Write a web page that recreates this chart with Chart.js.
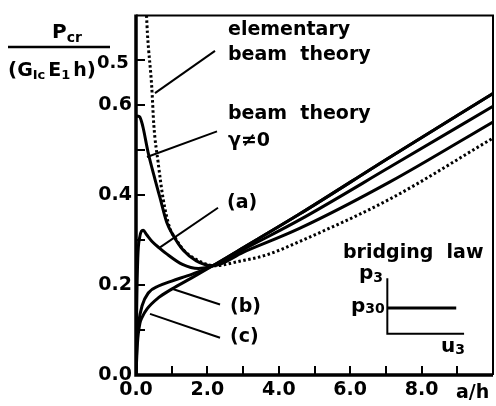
<!DOCTYPE html>
<html><head><meta charset="utf-8">
<script src="https://cdn.jsdelivr.net/npm/chart.js@4"></script>
<style>html,body{margin:0;padding:0;background:#fff}#wrap{width:496px;height:406px;position:relative}</style>
</head><body><div id="wrap"><canvas id="c" width="496" height="406"></canvas></div>
<script>
// ---- data (a/h, normalised critical load) ----
const elemX = [0.295, 0.32, 0.44, 0.5, 0.62, 0.76, 0.95, 1.1, 1.32, 1.69, 2.2, 2.9, 3.65, 4.58, 7.1, 10];
const elemY = [0.80, 0.76, 0.642, 0.555, 0.473, 0.392, 0.326, 0.305, 0.279, 0.257, 0.243, 0.253, 0.267, 0.297, 0.391, 0.527];

const beamX = [0, 0.1, 0.15, 0.2, 0.34, 0.53, 0.67, 0.86, 1.04, 1.32, 1.69, 2.15, 3, 4.58, 7.1, 10];
const beamY = [0.576, 0.575, 0.565, 0.55, 0.495, 0.436, 0.395, 0.34, 0.311, 0.278, 0.254, 0.243, 0.273, 0.326, 0.429, 0.563];

const aX = [0, 0.02, 0.05, 0.1, 0.2, 0.3, 0.45, 0.65, 0.85, 1.3, 1.75, 2.15, 3, 4.58, 7.1, 10];
const aY = [0, 0.15, 0.26, 0.305, 0.322, 0.312, 0.297, 0.283, 0.27, 0.246, 0.237, 0.243, 0.279, 0.345, 0.462, 0.598];

const bX = [0, 0.03, 0.07, 0.17, 0.35, 0.63, 1.0, 1.56, 2.15, 3, 4.58, 7.1, 10];
const bY = [0, 0.08, 0.114, 0.154, 0.183, 0.198, 0.209, 0.224, 0.243, 0.283, 0.358, 0.484, 0.626];

const cX = [0, 0.04, 0.11, 0.17, 0.31, 0.63, 1.0, 1.56, 2.15, 3, 4.58, 7.1, 10];
const cY = [0, 0.07, 0.115, 0.128, 0.147, 0.172, 0.191, 0.216, 0.243, 0.283, 0.358, 0.484, 0.626];

// leader lines (data coordinates): [x0, y0, x1, y1]
const leaderElem = [0.532, 0.627, 2.213, 0.721];
const leaderBeam = [0.308, 0.485, 2.269, 0.542];
const leaderA = [0.672, 0.284, 2.297, 0.372];
const leaderB = [1.008, 0.192, 2.353, 0.157];
const leaderC = [0.392, 0.136, 2.353, 0.083];

// inset sketch of bridging law (data coordinates)
const insetAxisX = [7.04, 7.04, 9.19];
const insetAxisY = [0.215, 0.092, 0.092];
const insetLawX = [7.04, 8.97];
const insetLawY = [0.149, 0.149];

// ticks
const xTickValues = [1, 2, 3, 4, 5, 6, 7, 8, 9];
const xTickLabels = {0: '0.0', 2: '2.0', 4: '4.0', 6: '6.0', 8: '8.0'};
const yTickValues = [0.1, 0.2, 0.3, 0.4, 0.5, 0.6, 0.7];
const yTickLabels = {0: '0.0', 2: '0.2', 4: '0.4', 6: '0.6'};

const pts = (xs, ys) => xs.map((x, i) => ({x, y: ys[i]}));
const seg = s => [{x: s[0], y: s[1]}, {x: s[2], y: s[3]}];

const curve = (data, dash) => ({
  data, borderColor: '#000', borderWidth: 3, borderDash: dash || [],
  pointRadius: 0, cubicInterpolationMode: 'monotone', fill: false, showLine: true
});
const thin = (data, w) => ({
  data, borderColor: '#000', borderWidth: w || 2, pointRadius: 0, tension: 0, fill: false, showLine: true
});

const FONT = '"DejaVu Sans", sans-serif';

function runs(ctx, x, list) {
  list.forEach(r => {
    ctx.font = 'bold ' + r.s + 'px ' + FONT;
    x += (r.g || 0);
    ctx.fillText(r.t, x, r.y);
    x += ctx.measureText(r.t).width;
  });
}

const deco = {
  id: 'deco',
  afterDatasetsDraw(chart) {
    const {ctx, chartArea: a, scales: {x, y}} = chart;
    ctx.save();
    ctx.strokeStyle = '#000';
    ctx.lineCap = 'butt';
    ctx.lineWidth = 2;
    ctx.beginPath(); ctx.moveTo(a.left, a.top); ctx.lineTo(a.right, a.top); ctx.lineTo(a.right, a.bottom); ctx.stroke();
    ctx.lineWidth = 3.5;
    ctx.beginPath(); ctx.moveTo(a.left, a.top - 1); ctx.lineTo(a.left, a.bottom); ctx.lineTo(a.right, a.bottom); ctx.stroke();
    ctx.lineWidth = 2;
    yTickValues.forEach(v => {
      const py = Math.round(y.getPixelForValue(v));
      ctx.beginPath(); ctx.moveTo(a.left, py); ctx.lineTo(a.left + 9, py); ctx.stroke();
    });
    xTickValues.forEach(v => {
      const px = Math.round(x.getPixelForValue(v));
      ctx.beginPath(); ctx.moveTo(px, a.bottom); ctx.lineTo(px, a.bottom - 9); ctx.stroke();
    });
    ctx.restore();
  },
  afterDraw(chart) {
    const {ctx} = chart;
    ctx.save();
    ctx.fillStyle = '#000';
    ctx.textBaseline = 'alphabetic';
    ctx.textAlign = 'left';
    // y-axis title
    runs(ctx, 52, [{t: 'P', s: 20, y: 38}, {t: 'cr', s: 14, y: 42}]);
    ctx.strokeStyle = '#000'; ctx.lineWidth = 2.5;
    ctx.beginPath(); ctx.moveTo(8, 47); ctx.lineTo(110, 47); ctx.stroke();
    runs(ctx, 8, [
      {t: '(', s: 20, y: 76}, {t: 'G', s: 19, y: 76}, {t: 'Ic', s: 13, y: 79},
      {t: 'E', s: 19, y: 76, g: 3}, {t: '1', s: 13, y: 79}, {t: 'h', s: 19, y: 76, g: 3},
      {t: ')', s: 20, y: 76}, {t: '0.5', s: 18, y: 68, g: 1}
    ]);
    // annotations
    ctx.font = 'bold 19px ' + FONT;
    ctx.fillText('elementary', 228, 35);
    ctx.fillText('beam  theory', 228, 60);
    ctx.fillText('beam  theory', 228, 119);
    ctx.fillText('\u03b3\u22600', 228, 146);
    ctx.fillText('(a)', 227, 208);
    ctx.fillText('(b)', 230, 312);
    ctx.fillText('(c)', 230, 342);
    ctx.fillText('bridging  law', 343, 258);
    ctx.fillText('a/h', 456, 398);
    runs(ctx, 359, [{t: 'p', s: 20, y: 279}, {t: '3', s: 14, y: 282}]);
    runs(ctx, 351, [{t: 'p', s: 20, y: 312}, {t: '30', s: 14, y: 313}]);
    runs(ctx, 441, [{t: 'u', s: 20, y: 352}, {t: '3', s: 14, y: 354}]);
    ctx.restore();
  }
};

new Chart(document.getElementById('c'), {
  type: 'scatter',
  data: {
    datasets: [
      curve(pts(elemX, elemY), [2.5, 2.5]),
      curve(pts(beamX, beamY)),
      curve(pts(aX, aY)),
      curve(pts(bX, bY)),
      curve(pts(cX, cY)),
      thin(seg(leaderElem)), thin(seg(leaderBeam)), thin(seg(leaderA)),
      thin(seg(leaderB)), thin(seg(leaderC)),
      thin(pts(insetAxisX, insetAxisY), 2),
      thin(pts(insetLawX, insetLawY), 3)
    ]
  },
  options: {
    responsive: false, animation: false, devicePixelRatio: 1,
    layout: {padding: {top: 11, right: 3, left: 0, bottom: 0}},
    plugins: {legend: {display: false}, tooltip: {enabled: false}},
    scales: {
      x: {
        type: 'linear', min: 0, max: 10,
        grid: {display: false, drawTicks: false},
        border: {display: false},
        afterFit: s => { s.height = 31; },
        ticks: {
          stepSize: 1, autoSkip: false, maxRotation: 0, padding: 4, color: '#000',
          font: {family: FONT, size: 19, weight: 'bold'},
          callback: v => { const r = Math.round(v); return xTickLabels[r] !== undefined ? xTickLabels[r] : null; }
        }
      },
      y: {
        type: 'linear', min: 0, max: 0.8,
        grid: {display: false, drawTicks: false},
        border: {display: false},
        afterFit: s => { s.width = 136; },
        ticks: {
          stepSize: 0.1, autoSkip: false, padding: 4, color: '#000',
          font: {family: FONT, size: 19, weight: 'bold'},
          callback: v => { const r = Math.round(v * 10); return yTickLabels[r] !== undefined ? yTickLabels[r] : null; }
        }
      }
    }
  },
  plugins: [deco]
});
</script></body></html>
